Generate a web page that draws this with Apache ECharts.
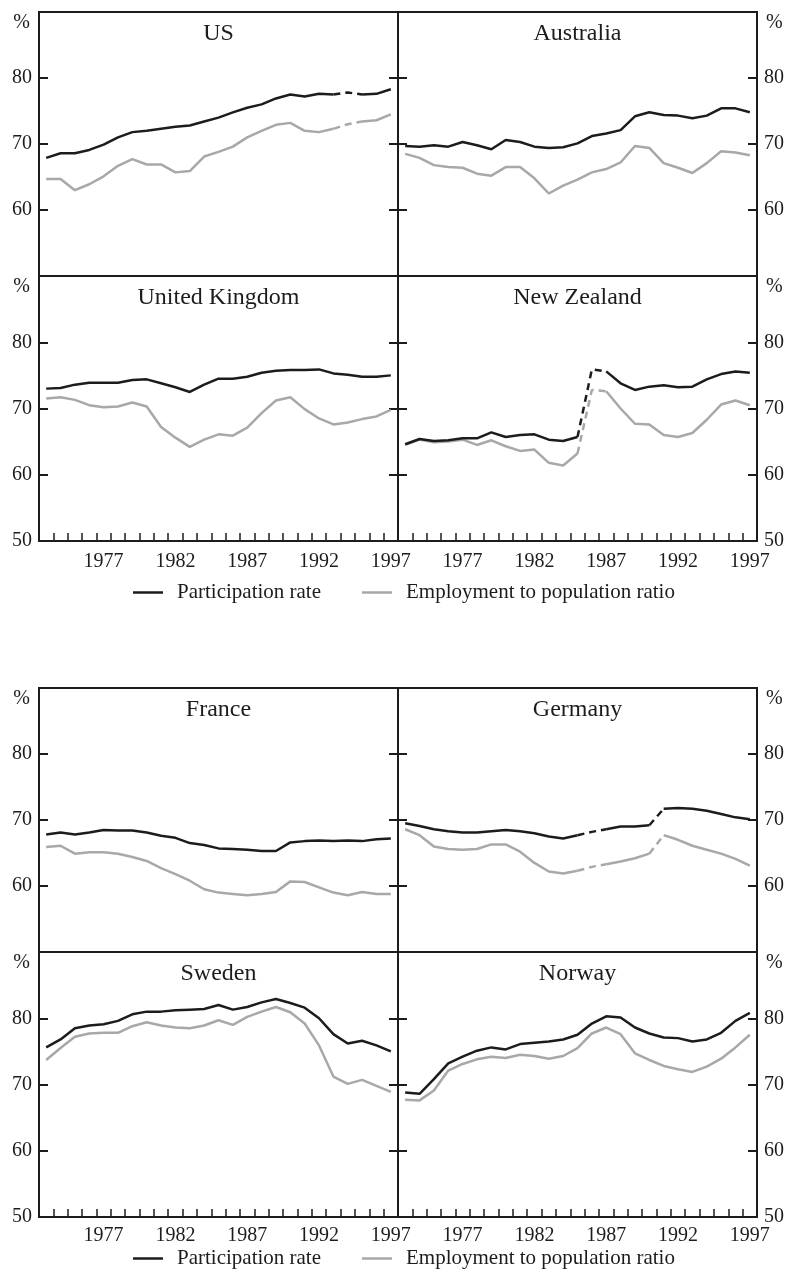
<!DOCTYPE html>
<html>
<head>
<meta charset="utf-8">
<title>Participation rate and employment to population ratio</title>
<script src="https://cdn.jsdelivr.net/npm/echarts@6/dist/echarts.min.js"></script>
<style>
  html, body { margin: 0; padding: 0; background: #fff; }
  #chart { width: 789px; height: 1278px; }
</style>
</head>
<body>
<div id="chart"></div>
<script>
// categories
const years = ['1973', '1974', '1975', '1976', '1977', '1978', '1979', '1980', '1981', '1982',
  '1983', '1984', '1985', '1986', '1987', '1988', '1989', '1990', '1991', '1992',
  '1993', '1994', '1995', '1996', '1997'];
const yTicks = [50, 60, 70, 80, 90];

// participation rate / employment to population ratio, per cent
const usPart = [67.9, 68.6, 68.6, 69.1, 69.9, 71.0, 71.8, 72.0, 72.3, 72.6, 72.8, 73.4, 74.0, 74.8, 75.5, 76.0, 76.9, 77.5, 77.2, 77.6, 77.5, 77.8, 77.5, 77.6, 78.3];
const usEmp = [64.7, 64.7, 63.0, 63.9, 65.1, 66.7, 67.7, 66.9, 66.9, 65.7, 65.9, 68.1, 68.8, 69.6, 71.0, 72.0, 72.9, 73.2, 72.0, 71.8, 72.3, 73.0, 73.4, 73.6, 74.5];
const auPart = [69.7, 69.6, 69.8, 69.6, 70.3, 69.8, 69.2, 70.6, 70.3, 69.6, 69.4, 69.5, 70.1, 71.2, 71.6, 72.1, 74.2, 74.8, 74.4, 74.3, 73.9, 74.3, 75.4, 75.4, 74.8];
const auEmp = [68.5, 67.9, 66.8, 66.5, 66.4, 65.5, 65.2, 66.5, 66.5, 64.8, 62.5, 63.7, 64.6, 65.7, 66.2, 67.2, 69.7, 69.4, 67.1, 66.4, 65.6, 67.1, 68.9, 68.7, 68.3];
const ukPart = [73.0, 73.1, 73.6, 73.9, 73.9, 73.9, 74.3, 74.4, 73.8, 73.2, 72.5, 73.6, 74.5, 74.5, 74.8, 75.4, 75.7, 75.8, 75.8, 75.9, 75.3, 75.1, 74.8, 74.8, 75.0];
const ukEmp = [71.5, 71.7, 71.3, 70.5, 70.2, 70.3, 70.9, 70.3, 67.2, 65.6, 64.2, 65.3, 66.1, 65.9, 67.1, 69.3, 71.2, 71.7, 69.9, 68.5, 67.6, 67.9, 68.4, 68.8, 69.8];
const nzPart = [64.6, 65.4, 65.1, 65.2, 65.5, 65.5, 66.4, 65.7, 66.0, 66.1, 65.3, 65.1, 65.7, 75.9, 75.6, 73.8, 72.8, 73.3, 73.5, 73.2, 73.3, 74.4, 75.2, 75.6, 75.4];
const nzEmp = [64.5, 65.3, 64.9, 65.0, 65.3, 64.5, 65.2, 64.3, 63.6, 63.8, 61.8, 61.4, 63.2, 72.8, 72.6, 70.0, 67.7, 67.6, 66.0, 65.7, 66.3, 68.3, 70.6, 71.2, 70.5];
const frPart = [67.8, 68.1, 67.8, 68.1, 68.5, 68.4, 68.4, 68.1, 67.6, 67.3, 66.5, 66.2, 65.7, 65.6, 65.5, 65.3, 65.3, 66.6, 66.8, 66.9, 66.8, 66.9, 66.8, 67.1, 67.2];
const frEmp = [65.9, 66.1, 64.9, 65.1, 65.1, 64.9, 64.4, 63.8, 62.7, 61.8, 60.8, 59.5, 59.0, 58.8, 58.6, 58.8, 59.1, 60.7, 60.6, 59.8, 59.0, 58.6, 59.1, 58.8, 58.8];
const dePart = [69.5, 69.1, 68.6, 68.3, 68.1, 68.1, 68.3, 68.5, 68.3, 68.0, 67.5, 67.2, 67.7, 68.2, 68.6, 69.0, 69.0, 69.2, 71.7, 71.8, 71.7, 71.4, 70.9, 70.4, 70.1];
const deEmp = [68.6, 67.7, 66.0, 65.6, 65.5, 65.6, 66.3, 66.3, 65.2, 63.5, 62.2, 61.9, 62.3, 62.9, 63.3, 63.7, 64.2, 64.9, 67.7, 67.0, 66.1, 65.5, 64.9, 64.1, 63.1];
const sePart = [75.6, 76.8, 78.5, 78.9, 79.1, 79.6, 80.6, 81.0, 81.0, 81.2, 81.3, 81.4, 82.0, 81.3, 81.7, 82.4, 82.9, 82.3, 81.6, 80.0, 77.6, 76.2, 76.6, 75.9, 75.0];
const seEmp = [73.7, 75.5, 77.2, 77.7, 77.8, 77.8, 78.8, 79.4, 78.9, 78.6, 78.5, 78.9, 79.7, 79.0, 80.2, 81.0, 81.7, 80.9, 79.2, 75.9, 71.2, 70.1, 70.7, 69.8, 68.9];
const noPart = [68.8, 68.6, 70.8, 73.2, 74.2, 75.1, 75.6, 75.3, 76.1, 76.3, 76.5, 76.8, 77.5, 79.2, 80.3, 80.1, 78.6, 77.7, 77.1, 77.0, 76.5, 76.8, 77.8, 79.6, 80.8];
const noEmp = [67.7, 67.6, 69.1, 72.1, 73.1, 73.8, 74.2, 74.0, 74.5, 74.3, 73.9, 74.3, 75.5, 77.7, 78.6, 77.6, 74.7, 73.7, 72.8, 72.3, 71.9, 72.7, 73.9, 75.6, 77.5];

// breaks in series, drawn dashed (index ranges into years)
const usBreaks = [[20, 22]];
const nzBreaks = [[12, 14]];
const deBreaks = [[12, 14], [17, 18]];

const PART = 'Participation rate';
const EMP = 'Employment to population ratio';
const FONT = 'Liberation Serif';
const INK = '#1c1c1c';
const GREY = '#a8a8a8';

const panels = [
  { name: 'US', part: usPart, emp: usEmp, breaks: usBreaks, block: 0, row: 0, col: 0 },
  { name: 'Australia', part: auPart, emp: auEmp, breaks: [], block: 0, row: 0, col: 1 },
  { name: 'United Kingdom', part: ukPart, emp: ukEmp, breaks: [], block: 0, row: 1, col: 0 },
  { name: 'New Zealand', part: nzPart, emp: nzEmp, breaks: nzBreaks, block: 0, row: 1, col: 1 },
  { name: 'France', part: frPart, emp: frEmp, breaks: [], block: 1, row: 0, col: 0 },
  { name: 'Germany', part: dePart, emp: deEmp, breaks: deBreaks, block: 1, row: 0, col: 1 },
  { name: 'Sweden', part: sePart, emp: seEmp, breaks: [], block: 1, row: 1, col: 0 },
  { name: 'Norway', part: noPart, emp: noEmp, breaks: [], block: 1, row: 1, col: 1 },
];

const blockTop = [12, 688];
const legendTop = [582, 1248];
const colLeft = [39, 398];
const panelW = 359;

// split a series into solid and dashed pieces
function pieces(n, breaks) {
  const out = [];
  let start = 0;
  breaks.forEach(([a, b]) => {
    if (a > start) out.push([start, a, false]);
    out.push([a, b, true]);
    start = b;
  });
  if (start < n - 1) out.push([start, n - 1, false]);
  return out;
}

const grid = [], xAxis = [], yAxis = [], series = [], title = [];

panels.forEach((p, i) => {
  const left = colLeft[p.col];
  const top = blockTop[p.block] + (p.row ? 264 : 0);
  const height = p.row ? 265 : 264;
  const bottomRow = p.row === 1;

  grid.push({
    left: left, top: top, width: panelW, height: height,
    show: true, borderColor: INK, borderWidth: 2, backgroundColor: 'transparent',
    containLabel: false, outerBoundsMode: 'none'
  });

  xAxis.push({
    type: 'category', gridIndex: i, data: years, boundaryGap: true,
    axisLine: { show: false },
    axisTick: { show: bottomRow, inside: true, length: 8, interval: 0, lineStyle: { color: INK, width: 1.5 } },
    axisLabel: {
      show: bottomRow, interval: (idx) => idx % 5 === 4,
      margin: p.block ? 9 : 11, fontFamily: FONT, fontSize: 20, color: INK
    },
    splitLine: { show: false }
  });

  ['left', 'right'].forEach((side) => {
    const outer = (side === 'left') === (p.col === 0);
    yAxis.push({
      type: 'value', gridIndex: i, position: side,
      min: yTicks[0], max: yTicks[yTicks.length - 1], interval: 10,
      axisLine: { show: false },
      axisTick: { show: true, inside: true, length: 9, lineStyle: { color: INK, width: 2 } },
      axisLabel: {
        show: outer, margin: 7, fontFamily: FONT, fontSize: 20, color: INK,
        formatter: (v) => (v === 90 || (v === 50 && !bottomRow)) ? '' : String(v)
      },
      splitLine: { show: false }
    });
  });

  [[p.emp, EMP, GREY, 2], [p.part, PART, INK, 3]].forEach(([vals, name, color, z]) => {
    pieces(vals.length, p.breaks).forEach(([a, b, dashed]) => {
      series.push({
        type: 'line', name: name, xAxisIndex: i, yAxisIndex: i * 2,
        data: vals.map((v, k) => (k >= a && k <= b) ? v : null),
        symbol: 'none', silent: true, z: z,
        lineStyle: { color: color, width: 2.5, type: dashed ? [7, 5] : 'solid' },
        itemStyle: { color: color },
        emphasis: { disabled: true }
      });
    });
  });

  title.push({
    text: p.name, left: left + panelW / 2, top: top + 10, textAlign: 'center', padding: 0,
    textStyle: { fontFamily: FONT, fontSize: 24, fontWeight: 'normal', color: INK }
  });
  title.push({
    text: '%', left: p.col ? 766 : 30, top: top + 1, textAlign: p.col ? 'left' : 'right', padding: 0,
    textStyle: { fontFamily: FONT, fontSize: 20, fontWeight: 'normal', color: INK }
  });
});

const legend = legendTop.map((t) => ({
  left: 133, top: t, padding: 0, orient: 'horizontal',
  data: [PART, EMP], icon: 'rect', itemWidth: 30, itemHeight: 2.5, itemGap: 41,
  selectedMode: false,
  textStyle: { fontFamily: FONT, fontSize: 21, color: INK, padding: [0, 0, 0, 9] }
}));

const chart = echarts.init(document.getElementById('chart'));
chart.setOption({
  animation: false,
  backgroundColor: '#fff',
  title: title,
  legend: legend,
  grid: grid,
  xAxis: xAxis,
  yAxis: yAxis,
  series: series
});
</script>
</body>
</html>
